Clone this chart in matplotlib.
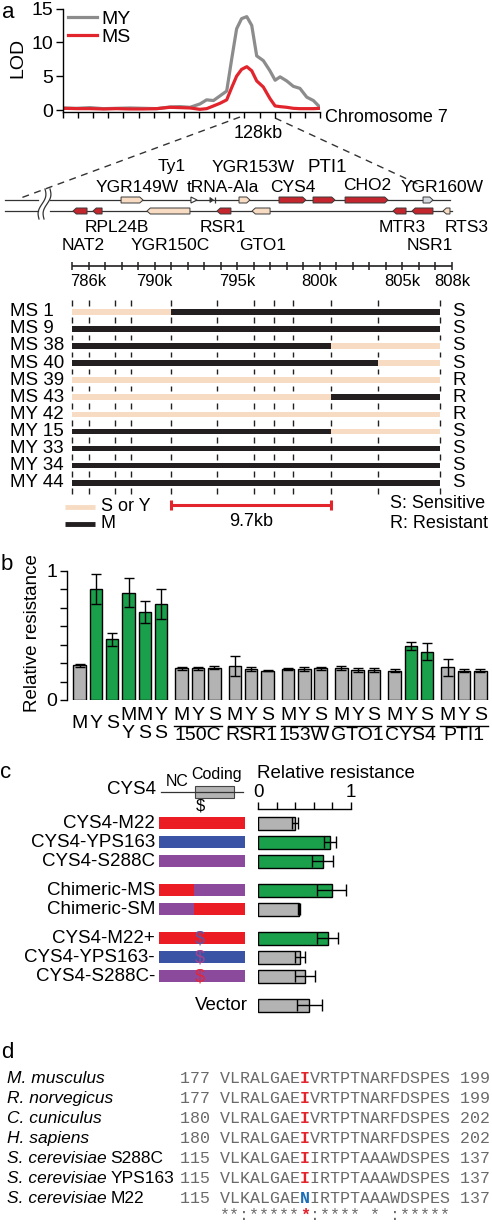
import matplotlib
matplotlib.use("Agg")
import matplotlib.pyplot as plt
import numpy as np
from matplotlib.patches import Polygon, Rectangle

plt.rcParams['font.family'] = ['Liberation Sans', 'DejaVu Sans']
plt.rcParams['font.size'] = 13
plt.rcParams['axes.linewidth'] = 1.0

W, H = 492, 1224

GRAY_LINE = '#8c8c8c'
RED = '#e2242c'
BEIGE = '#f7dcc3'
BLACK = '#231f20'
GREEN = '#1aa04a'
BAR_GRAY = '#b3b3b3'
GENE_RED = '#c4262e'
M_RED = '#ec1c24'
Y_BLUE = '#3a53a4'
S_PURPLE = '#8c4a9c'
SEQ_GRAY = '#6a6a6a'

# ---------------- data ----------------
# a: LOD along chromosome 7 (kb)
lod_pos = [0, 58, 114, 171, 227, 284, 340, 397, 453, 495, 538, 580, 608, 637, 665, 693,
           714, 735, 756, 778, 799, 820, 848, 876, 898, 919, 947, 975, 1003, 1032, 1060, 1088]
lod_my = [0.3, 0.25, 0.35, 0.2, 0.25, 0.3, 0.25, 0.2, 0.45, 0.5, 0.4, 0.9, 1.5, 1.4, 2.1, 2.8,
          7.5, 12.0, 13.5, 13.8, 12.5, 8.0, 7.3, 5.8, 4.4, 4.9, 4.3, 3.5, 3.2, 1.9, 1.4, 0.4]
lod_ms = [0.25, 0.2, 0.2, 0.15, 0.2, 0.15, 0.15, 0.2, 0.4, 0.35, 0.3, 0.1, 0.2, 0.6, 1.0, 1.5,
          3.3, 5.0, 6.0, 6.4, 5.8, 4.3, 3.4, 1.7, 0.6, 0.5, 0.4, 0.25, 0.2, 0.2, 0.2, 0.25]

# a: genes in the window (kb)
top_genes = ['YGR149W', 'Ty1', 'tRNA-Ala', 'YGR153W', 'CYS4', 'PTI1', 'CHO2', 'YGR160W']
top_start = [787.97, 792.20, 793.35, 795.11, 797.53, 799.59, 801.53, 806.25]
top_end = [789.30, 792.57, 793.66, 795.77, 799.16, 800.92, 804.13, 806.85]
top_kind = ['y', 'te', 'trna', 'y', 'm', 'm', 'm', 'o']
bot_genes = ['NAT2', 'RPL24B', 'YGR150C', 'RSR1', 'GTO1', 'MTR3', 'NSR1', 'RTS3']
bot_start = [785.06, 786.27, 789.54, 793.78, 795.90, 804.43, 805.58, 807.46]
bot_end = [785.91, 786.82, 792.14, 794.62, 796.99, 805.22, 806.85, 807.88]
bot_kind = ['m', 'm', 'y', 'm', 'y', 'm', 'm', 'y']

ruler_labels = [786, 790, 795, 800, 805, 808]

# a: segregant haplotypes (genotype per marker interval)
markers = [785.0, 786.0, 787.6, 788.6, 791.0, 793.8, 796.0, 797.2, 798.4, 800.7, 803.5, 807.3]
strains = ['MS 1', 'MS 9', 'MS 38', 'MS 40', 'MS 39', 'MS 43', 'MY 42', 'MY 15', 'MY 33', 'MY 34', 'MY 44']
genotypes = ['YYYYMMMMMMM', 'MMMMMMMMMMM', 'MMMMMMMMMYY', 'MMMMMMMMMMY', 'YYYYYYYYYYY',
             'YYYYYYYYYMM', 'YYYYYYYYYYY', 'MMMMMMMMMYY', 'MMMMMMMMMMM', 'MMMMMMMMMMM', 'MMMMMMMMMMM']
phenotype = ['S', 'S', 'S', 'S', 'R', 'R', 'R', 'S', 'S', 'S', 'S']

# b: parents / hybrids
par_top = ['M', 'Y', 'S', 'M', 'M', 'Y']
par_bottom = ['', '', '', 'Y', 'S', 'S']
par_vals = [0.27, 0.857, 0.469, 0.83, 0.683, 0.742]
par_err = [0.012, 0.115, 0.053, 0.11, 0.085, 0.115]
# b: allele swaps
swap_genes = ['150C', 'RSR1', '153W', 'GTO1', 'CYS4', 'PTI1']
alleles = ['M', 'Y', 'S']
swap_vals = [[0.245, 0.245, 0.25], [0.265, 0.24, 0.227], [0.24, 0.24, 0.245],
             [0.245, 0.232, 0.232], [0.227, 0.42, 0.374], [0.253, 0.227, 0.227]]
swap_err = [[0.012, 0.012, 0.012], [0.078, 0.012, 0.006], [0.006, 0.012, 0.012],
            [0.015, 0.012, 0.012], [0.012, 0.03, 0.065], [0.064, 0.012, 0.012]]

# c: constructs
c_labels = ['CYS4-M22', 'CYS4-YPS163', 'CYS4-S288C', 'Chimeric-MS', 'Chimeric-SM',
            'CYS4-M22+', 'CYS4-YPS163-', 'CYS4-S288C-', 'Vector']
c_vals = [0.397, 0.776, 0.697, 0.794, 0.44, 0.751, 0.451, 0.505, 0.552]
c_err = [0.03, 0.065, 0.115, 0.16, 0.015, 0.115, 0.054, 0.108, 0.134]
c_group = [0, 0, 0, 1, 1, 2, 2, 2, 3]
c_nc = ['M', 'Y', 'S', 'M', 'S', 'M', 'Y', 'S', '']
c_coding = ['M', 'Y', 'S', 'S', 'M', 'M', 'Y', 'S', '']
c_site = ['', '', '', '', '', 'Y', 'S', 'M', '']

# d: alignment
d_species = ['M. musculus', 'R. norvegicus', 'C. cuniculus', 'H. sapiens',
             'S. cerevisiae', 'S. cerevisiae', 'S. cerevisiae']
d_strain = ['', '', '', '', 'S288C', 'YPS163', 'M22']
d_start = [177, 177, 180, 180, 115, 115, 115]
d_end = [199, 199, 202, 202, 137, 137, 137]
d_seq = ['VLRALGAEIVRTPTNARFDSPES'] * 4 + ['VLKALGAEIIRTPTAAAWDSPES'] * 2 + ['VLKALGAENIRTPTAAAWDSPES']
d_cons = '**:******:**** * :*****'
d_site = 8

# ---------------- figure ----------------
fig = plt.figure(figsize=(W / 100, H / 100), dpi=100)
ov = fig.add_axes([0, 0, 1, 1])
ov.set_xlim(0, W)
ov.set_ylim(H, 0)
ov.axis('off')


def px_axes(l, t, r, b):
    a = fig.add_axes([l / W, 1 - b / H, (r - l) / W, (b - t) / H])
    a.set_facecolor('none')
    return a


# panel letters
for letter, (x, y) in zip('abcd', [(8, 12), (7, 565), (6, 772), (7, 1052)]):
    ov.text(x, y, letter, fontsize=16, ha='center', va='center')

# ---- a: LOD ----
ax = px_axes(63, 8.5, 320, 111.7)
ax.plot(lod_pos, lod_my, color=GRAY_LINE, lw=2.3, label='MY', solid_joinstyle='round')
ax.plot(lod_pos, lod_ms, color=RED, lw=2.3, label='MS', solid_joinstyle='round')
ax.set_xlim(0, 1088)
ax.set_ylim(-0.25, 15)
ax.set_yticks([0, 5, 10, 15])
ax.set_xticks(np.arange(0, 1089, 64))
ax.set_xticklabels([])
ax.tick_params(axis='y', labelsize=14, length=5, width=1, pad=2)
ax.tick_params(axis='x', length=4, width=1)
for s in ['top', 'right']:
    ax.spines[s].set_visible(False)
ax.legend(loc='upper left', bbox_to_anchor=(-0.01, 1.06), frameon=False, fontsize=14,
          handlelength=1.5, handletextpad=0.2, labelspacing=0.05, borderaxespad=0)
ov.text(18, 58, 'LOD', rotation=90, fontsize=14, ha='center', va='center')
ov.text(325, 117, 'Chromosome 7', ha='left', va='center')
ov.text(258, 133, '128kb', ha='center', va='center')
ov.plot([240, 18], [117, 199], ls=(0, (5, 4)), color='#333333', lw=1)
ov.plot([275, 420], [118, 185], ls=(0, (5, 4)), color='#333333', lw=1)

# ---- a: gene map / haplotypes (x in kb, y in px) ----
px_per_kb = 16.52
mp = px_axes(0, 140, W, 540)
mp.set_xlim(785 - 72 / px_per_kb, 785 + (W - 72) / px_per_kb)
mp.set_ylim(540, 140)
mp.axis('off')

# track lines with break
for yl, xe in [(200, 450), (211, 452)]:
    ov.plot([5, 38], [yl, yl], color='#333333', lw=0.9)
    ov.plot([50, xe], [yl, yl], color='#333333', lw=0.9)
tt = np.linspace(0, 1, 40)
for x0 in [45, 50]:
    ov.plot(x0 - 6 * tt + 2.2 * np.sin(2 * np.pi * tt), 189 + 30 * tt, color='#333333', lw=0.9)

kind_color = {'y': BEIGE, 'm': GENE_RED, 'o': '#d3d8de'}


def gene(x0, x1, y, strand, fc, h=6):
    head = min(0.2, (x1 - x0) * 0.5)
    if strand > 0:
        pts = [(x0, y - h / 2), (x1 - head, y - h / 2), (x1, y), (x1 - head, y + h / 2), (x0, y + h / 2)]
    else:
        pts = [(x1, y - h / 2), (x0 + head, y - h / 2), (x0, y), (x0 + head, y + h / 2), (x1, y + h / 2)]
    mp.add_patch(Polygon(pts, closed=True, fc=fc, ec='#3a3a3a', lw=0.7, zorder=3))


for s, e, k in zip(top_start, top_end, top_kind):
    if k == 'te':
        mp.add_patch(Polygon([(s, 197), (e, 200), (s, 203)], closed=True, fc='white', ec='#333333', lw=0.8, zorder=3))
    elif k == 'trna':
        mp.add_patch(Polygon([(s, 197.5), (e - 0.1, 200), (s, 202.5)], closed=True, fc='#333333', ec='#333333', lw=0.6, zorder=3))
        mp.vlines(e, 197, 203, color='#333333', lw=0.9)
    else:
        gene(s, e, 200, 1, kind_color[k])
for s, e, k in zip(bot_start, bot_end, bot_kind):
    gene(s, e, 211, -1, kind_color[k])

top_lab_pos = [(137, 187), (172, 167), (223, 187), (253, 167), (293, 187), (327, 167), (367, 185), (442, 187)]
bot_lab_pos = [(83, 246), (117, 227), (170, 246), (223, 227), (263, 246), (402, 227), (430, 246), (467, 227)]
for name, (x, y) in zip(top_genes, top_lab_pos):
    ov.text(x, y, name, ha='center', va='center', fontsize=13.5 if name == 'PTI1' else 12.5)
for name, (x, y) in zip(bot_genes, bot_lab_pos):
    ov.text(x, y, name, ha='center', va='center', fontsize=12.5)

# ruler
mp.hlines(266, 785, 808, color=BLACK, lw=1.2)
mp.vlines(np.arange(785, 809), 262, 270, color=BLACK, lw=1.1)
for k in ruler_labels:
    mp.text(k, 282, f'{k}k', ha='center', va='center', fontsize=12)

# haplotypes
row_y = 311.7 + 17.1 * np.arange(len(strains))
for i, (name, g, ph) in enumerate(zip(strains, genotypes, phenotype)):
    j = 0
    while j < len(g):
        k = j
        while k < len(g) and g[k] == g[j]:
            k += 1
        mp.barh(row_y[i], markers[k] - markers[j], left=markers[j], height=5.6,
                color=BLACK if g[j] == 'M' else BEIGE, zorder=3)
        j = k
    ov.text(10, row_y[i], name, ha='left', va='center', fontsize=13.5)
    ov.text(452, row_y[i], ph, ha='left', va='center', fontsize=13.5)
for i in range(len(strains) + 1):
    yc = 311.7 + 17.1 * (i - 0.5)
    mp.vlines(markers, yc - 2.8, yc + 2.8, color=BLACK, lw=1)

# 9.7kb bar
mp.hlines(505, markers[4], markers[9], color=RED, lw=2.2)
mp.vlines([markers[4], markers[9]], 500, 510, color=RED, lw=2.2)
mp.text((markers[4] + markers[9]) / 2, 522, f'{markers[9] - markers[4]:.1f}kb', ha='center', va='center')

# legends
ov.plot([65, 95], [506.5, 506.5], color=BEIGE, lw=3.5, solid_capstyle='butt')
ov.plot([65, 95], [524, 524], color=BLACK, lw=3.5, solid_capstyle='butt')
ov.text(101, 506.5, 'S or Y', ha='left', va='center')
ov.text(101, 524, 'M', ha='left', va='center')
ov.text(390, 504, 'S: Sensitive', ha='left', va='center')
ov.text(390, 524, 'R: Resistant', ha='left', va='center')

# ---- b ----
P = 16.3
bx = px_axes(66.7, 570.7, W, 700)
bx.set_ylim(0, 1)
bx.set_xlim((66.7 - 79.6) / P, (W - 79.6) / P)
g = 0.264
par_x = np.arange(len(par_vals))
grp_x = [6 + g + k * (3 + g) + np.arange(3) for k in range(len(swap_genes))]
ek = dict(elinewidth=1, capthick=1, ecolor='black')


def bcol(v):
    return GREEN if v > 0.3 else BAR_GRAY


bx.bar(par_x, par_vals, width=0.77, color=[bcol(v) for v in par_vals], edgecolor='black', lw=1,
       yerr=par_err, capsize=3.6, error_kw=ek)
for xs, vals, errs in zip(grp_x, swap_vals, swap_err):
    bx.bar(xs, vals, width=0.77, color=[bcol(v) for v in vals], edgecolor='black', lw=1,
           yerr=errs, capsize=3.6, error_kw=ek)

upx = 1 / 129.3
fs_b = 14
for x, t, b in zip(par_x, par_top, par_bottom):
    if b:
        bx.text(x, -15 * upx, t, ha='center', va='center', fontsize=fs_b, clip_on=False)
        bx.text(x, -33 * upx, b, ha='center', va='center', fontsize=fs_b, clip_on=False)
    else:
        bx.text(x, -23 * upx, t, ha='center', va='center', fontsize=fs_b, clip_on=False)
for xs, gname in zip(grp_x, swap_genes):
    for x, a in zip(xs, alleles):
        bx.text(x, -15 * upx, a, ha='center', va='center', fontsize=fs_b, clip_on=False)
    bx.plot([xs[0] - 0.45, xs[-1] + 0.45], [-25.5 * upx] * 2, color='black', lw=1, clip_on=False)
    bx.text(xs[1], -36 * upx, gname, ha='center', va='center', fontsize=fs_b, clip_on=False)
bx.set_yticks([0, 1])
bx.set_yticks(np.linspace(0, 1, 8), minor=True)
bx.tick_params(axis='y', which='both', length=5, width=1, pad=2, labelsize=14)
bx.set_xticks([])
for s in ['top', 'right', 'bottom']:
    bx.spines[s].set_visible(False)
ov.text(33, 633, 'Relative resistance', rotation=90, ha='center', va='center', fontsize=13.5)

# ---- c ----
cx = px_axes(258.3, 809.3, W, 1020)
cx.set_xlim(0, (W - 258.3) / 92.4)
cx.set_ylim(1020, 809.3)
c_y = 823.3 + 19 * np.arange(len(c_labels)) + 10 * np.array(c_group)
cx.barh(c_y, c_vals, height=12.7, color=[bcol(v) if v > 0.6 else BAR_GRAY for v in c_vals],
        edgecolor='black', lw=1, xerr=c_err, capsize=4.3, error_kw=ek)
for s in ['bottom', 'right', 'left']:
    cx.spines[s].set_visible(False)
cx.spines['top'].set_bounds(0, 1)
cx.xaxis.set_ticks_position('top')
cx.set_xticks(np.linspace(0, 1, 6))
cx.set_xticklabels(['0', '', '', '', '', '1'])
cx.tick_params(axis='x', length=5, width=1, pad=1, labelsize=13.5)
cx.set_yticks([])
ov.text(257, 773, 'Relative resistance', ha='left', va='center', fontsize=13.5)

allele_col = {'M': M_RED, 'Y': Y_BLUE, 'S': S_PURPLE}
site_col = {'Y': '#5f55a6', 'S': '#a2428f', 'M': '#e3263a'}
for y, lab, nc, cd, st in zip(c_y, c_labels, c_nc, c_coding, c_site):
    if nc:
        ov.add_patch(Rectangle((159.3, y - 6), 194 - 159.3, 12, fc=allele_col[nc], ec='none'))
        ov.add_patch(Rectangle((194, y - 6), 245 - 194, 12, fc=allele_col[cd], ec='none'))
        ov.text(155, y, lab, ha='right', va='center', fontsize=13.5)
        if st:
            ov.text(200, y + 1, '$', ha='center', va='center', fontsize=13, color=site_col[st])
    else:
        ov.text(248, y, lab, ha='right', va='center', fontsize=13.5)

# CYS4 schematic
ov.text(156, 789, 'CYS4', ha='right', va='center', fontsize=13.5)
ov.plot([161, 243], [791.7, 791.7], color='#333333', lw=0.9)
ov.add_patch(Rectangle((195, 785.5), 39, 12, fc=BAR_GRAY, ec='#444444', lw=0.8))
ov.text(177, 781, 'NC', ha='center', va='center', fontsize=11.5)
ov.text(217, 774, 'Coding', ha='center', va='center', fontsize=11.5)
ov.text(200, 806, '$', ha='center', va='center', fontsize=12)

# ---- d ----
fig.canvas.draw()
rend = fig.canvas.get_renderer()
cw = 0.6 * 12 * 100 / 72
x0 = 180
mono = dict(family='Liberation Mono', fontsize=12, va='center', ha='left')
d_y = 1078.3 + 20 * np.arange(len(d_species))
for y, sp, strain, s0, s1, seq in zip(d_y, d_species, d_strain, d_start, d_end, d_seq):
    t = ov.text(7, y, sp, ha='left', va='center', fontsize=12.5, style='italic')
    if strain:
        bb = t.get_window_extent(rend)
        ov.text(bb.x1 + 4, y, strain, ha='left', va='center', fontsize=12.5)
    ov.text(x0, y, f'{s0} ' + seq[:d_site], color=SEQ_GRAY, **mono)
    ov.text(x0 + (4 + d_site) * cw, y, seq[d_site], fontweight='bold',
            color=RED if seq[d_site] == 'I' else '#1a6fb8', **mono)
    ov.text(x0 + (5 + d_site) * cw, y, seq[d_site + 1:] + f' {s1}', color=SEQ_GRAY, **mono)
cy = 1215
ov.text(x0 + 4 * cw, cy, d_cons[:d_site], color=SEQ_GRAY, **mono)
ov.text(x0 + (4 + d_site) * cw, cy, d_cons[d_site], color=RED, fontweight='bold', **mono)
ov.text(x0 + (5 + d_site) * cw, cy, d_cons[d_site + 1:], color=SEQ_GRAY, **mono)

fig.savefig('out.png', dpi=100)
